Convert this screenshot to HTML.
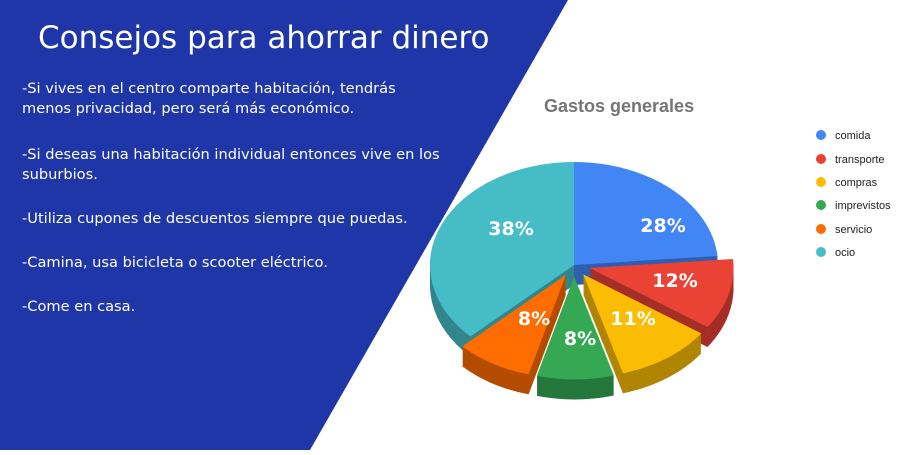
<!DOCTYPE html>
<html><head><meta charset="utf-8"><style>
body{margin:0;width:900px;height:450px;overflow:hidden;background:#fff;font-family:"Liberation Sans",sans-serif}
</style></head><body>
<svg id="s" width="900" height="450" xmlns="http://www.w3.org/2000/svg">
<polygon points="0,0 568,0 310,450 0,450" fill="#1f36a8"/>
<text x="38" y="48" fill="#fff" font-size="31" font-family="DejaVu Sans, sans-serif">Consejos para ahorrar dinero</text>
<g fill="#fff" font-size="14.6" font-family="DejaVu Sans, sans-serif">
<text x="22" y="93">-Si vives en el centro comparte habitación, tendrás</text>
<text x="22" y="113">menos privacidad, pero será más económico.</text>
<text x="22" y="159">-Si deseas una habitación individual entonces vive en los</text>
<text x="22" y="179">suburbios.</text>
<text x="22" y="223">-Utiliza cupones de descuentos siempre que puedas.</text>
<text x="22" y="267">-Camina, usa bicicleta o scooter eléctrico.</text>
<text x="22" y="311">-Come en casa.</text>
</g>
<text x="544" y="112" fill="#757575" font-size="18" font-weight="bold">Gastos generales</text>
<g font-size="11" fill="#222">
<circle cx="821" cy="135" r="5" fill="#4285f4"/><text x="835" y="139">comida</text>
<circle cx="821" cy="159" r="5" fill="#ea4335"/><text x="835" y="163">transporte</text>
<circle cx="821" cy="182" r="5" fill="#fbbc04"/><text x="835" y="186">compras</text>
<circle cx="821" cy="205" r="5" fill="#34a853"/><text x="835" y="209">imprevistos</text>
<circle cx="821" cy="229" r="5" fill="#ff6d01"/><text x="835" y="233">servicio</text>
<circle cx="821" cy="252" r="5" fill="#46bdc6"/><text x="835" y="256">ocio</text>
</g>
<g id="pie"></g>
</svg>
<script>
var cx=574,cy=265,rx=144,ry=103,D=20,ns="http://www.w3.org/2000/svg";
var sl=[
{a0:0,a1:85,c:"#4285f4",d:"#2f5fb0",e:0,l:"28%"},
{a0:85,a1:125,c:"#ea4335",d:"#a52f26",e:16,l:"12%"},
{a0:125,a1:164,c:"#fbbc04",d:"#b08503",e:16,l:"11%"},
{a0:164,a1:195,c:"#34a853",d:"#25773b",e:16,l:"8%"},
{a0:195,a1:226,c:"#ff6d01",d:"#b44d01",e:16,l:"8%"},
{a0:226,a1:360,c:"#46bdc6",d:"#32868c",e:0,l:"38%"}];
function pt(x,y,t,k){var r=t*Math.PI/180;return [x+k*rx*Math.sin(r),y-k*ry*Math.cos(r)];}
function path(s,dy){var m=(s.a0+s.a1)/2*Math.PI/180;var ox=cx+s.e*Math.sin(m),oy=cy-s.e*Math.cos(m)*ry/rx+dy;
var p0=pt(ox,oy,s.a0,1),p1=pt(ox,oy,s.a1,1);var lg=(s.a1-s.a0)>180?1:0;
return "M"+ox+","+oy+"L"+p0+"A"+rx+","+ry+" 0 "+lg+" 1 "+p1+"Z";}
var g=document.getElementById("pie");
function add(d,f){var e=document.createElementNS(ns,"path");e.setAttribute("d",d);e.setAttribute("fill",f);g.appendChild(e);}
[0,5,1,4,2,3].forEach(function(i){var s=sl[i];for(var k=D;k>0;k--)add(path(s,k),s.d);add(path(s,0),s.c);});
var lp=[[663,232],[675,287],[633,325],[580,345],[534,325],[511,235]];
sl.forEach(function(s,i){var t=document.createElementNS(ns,"text");t.setAttribute("x",lp[i][0]);t.setAttribute("y",lp[i][1]);
t.setAttribute("fill","#fff");t.setAttribute("font-size","19");t.setAttribute("font-weight","bold");t.setAttribute("text-anchor","middle");
t.setAttribute("font-family","DejaVu Sans, sans-serif");t.textContent=s.l;g.appendChild(t);});
</script>
</body></html>
